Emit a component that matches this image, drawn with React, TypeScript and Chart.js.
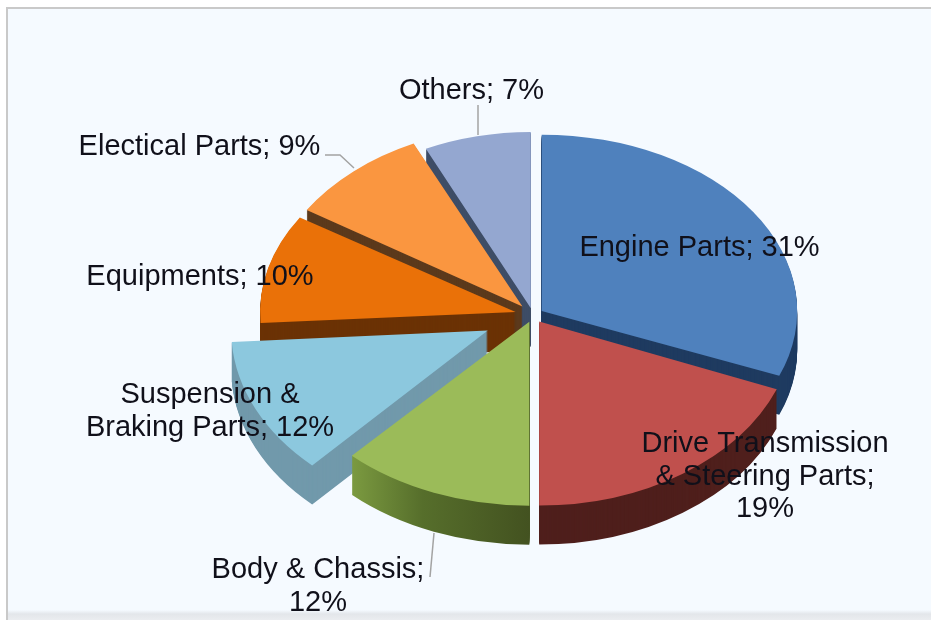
import React, { useEffect, useRef } from "react";
import { Chart, registerables } from "chart.js";

Chart.register(...registerables);

// ---- data ----
const categories = [
  "Engine Parts",
  "Drive Transmission & Steering Parts",
  "Body & Chassis",
  "Suspension & Braking Parts",
  "Equipments",
  "Electical Parts",
  "Others",
];
const shares = [31, 19, 12, 12, 10, 9, 7];

// ---- styles ----
const topColors = ["#4f81bd", "#c0504d", "#9bbb59", "#8cc8de", "#ea7108", "#fa9640", "#94a7d0"];
const sideColors = ["#1f3b60", "#4f1f1c", "#566e2c", "#7199ab", "#6b3205", "#5c3a1c", "#3e4d66"];
const explode = [10.5, 11, 10, 50, 18, 16, 10];
const tilt = [0.69, 0.72, 0.72, 0.725, 0.69, 0.705, 0.69];
const squeeze = [1, 1, 1.015, 1.004, 1, 1, 0.965];
const paintOrder = [6, 5, 4, 0, 3, 2, 1];
const DEPTH = 39;
const RADIUS = 255.5;
const FONT = '29px "Liberation Sans", Arial, sans-serif';

// label text lines with their anchor (centre x, middle y)
const labelBlocks = [
  { lines: ["Engine Parts; 31%"], x: 699.5, y: 248 },
  { lines: ["Drive Transmission", "& Steering Parts;", "19%"], x: 765, y: 444 },
  { lines: ["Body & Chassis;", "12%"], x: 318, y: 570 },
  { lines: ["Suspension &", "Braking Parts; 12%"], x: 210, y: 395 },
  { lines: ["Equipments; 10%"], x: 200, y: 277 },
  { lines: ["Electical Parts; 9%"], x: 199.5, y: 147 },
  { lines: ["Others; 7%"], x: 471.5, y: 91 },
];
const leaders = [
  [[478, 105], [478, 135]],
  [[325, 155], [340, 155], [354, 168]],
  [[434, 533], [430, 577]],
];

const base = {
  borderColor: "transparent",
  borderWidth: 0,
  borderAlign: "center",
  borderJoinStyle: "round",
  borderRadius: 0,
  borderDash: [],
  borderDashOffset: 0,
  circular: true,
  offset: 0,
  spacing: 0,
};

const pie3d = {
  id: "pie3d",
  beforeDraw(chart: any) {
    const ctx = chart.ctx;
    ctx.save();
    ctx.fillStyle = "#ffffff";
    ctx.fillRect(0, 0, 931, 620);
    ctx.fillStyle = "#f5faff";
    ctx.fillRect(7, 8, 924, 612);
    ctx.fillStyle = "#c9c9c9";
    ctx.fillRect(7, 7, 924, 2);
    ctx.fillRect(6, 7, 2, 613);
    const g = ctx.createLinearGradient(0, 610, 0, 620);
    g.addColorStop(0, "rgba(225,228,232,0)");
    g.addColorStop(0.4, "rgba(225,228,232,0.9)");
    g.addColorStop(1, "rgba(235,237,240,1)");
    ctx.fillStyle = g;
    ctx.fillRect(8, 610, 923, 10);
    ctx.restore();
  },
  beforeDatasetsDraw(chart: any) {
    const ctx = chart.ctx;
    const arcs = chart.getDatasetMeta(0).data;
    paintOrder.forEach((i) => {
      const arc = arcs[i];
      const saved = arc.options;
      const mid = (arc.startAngle + arc.endAngle) / 2;
      const k = tilt[i];
      const tipX = arc.x + Math.cos(mid) * explode[i];
      const tipY = arc.y + Math.sin(mid) * explode[i] * k;
      const paint = (shift: number, color: any) => {
        arc.options = { ...base, backgroundColor: color };
        ctx.save();
        ctx.translate(tipX, tipY + shift);
        ctx.scale(squeeze[i], k);
        ctx.translate(-arc.x, -arc.y);
        arc.draw(ctx);
        ctx.restore();
      };
      let side: any = sideColors[i];
      if (i === 2) {
        const g = ctx.createLinearGradient(arc.x - 175, 0, arc.x, 0);
        g.addColorStop(0, "#7b9a40");
        g.addColorStop(0.4, "#566e2b");
        g.addColorStop(1, "#435220");
        side = g;
      }
      for (let d = DEPTH; d >= 1; d--) paint(d, side);
      paint(0, topColors[i]);
      arc.options = saved;
    });
    // text and leader lines sit on top of the pie
    ctx.save();
    ctx.strokeStyle = "#a3a3a3";
    ctx.lineWidth = 1.5;
    leaders.forEach((pts) => {
      ctx.beginPath();
      pts.forEach(([x, y], n) => (n ? ctx.lineTo(x, y) : ctx.moveTo(x, y)));
      ctx.stroke();
    });
    ctx.font = FONT;
    ctx.fillStyle = "#10101a";
    ctx.textAlign = "center";
    ctx.textBaseline = "middle";
    labelBlocks.forEach((b) => {
      b.lines.forEach((t, n) => ctx.fillText(t, b.x, b.y + n * 32.5));
    });
    ctx.restore();
    return false;
  },
};

export default function App() {
  const ref = useRef<HTMLCanvasElement | null>(null);
  useEffect(() => {
    document.body.style.margin = "0";
    const chart = new Chart(ref.current as HTMLCanvasElement, {
      type: "pie",
      data: {
        labels: categories,
        datasets: [
          {
            data: shares,
            backgroundColor: topColors,
            borderWidth: 0,
            clip: false,
          } as any,
        ],
      },
      options: {
        responsive: false,
        animation: false,
        events: [],
        radius: RADIUS,
        layout: { padding: { left: 135, top: 10 } },
        plugins: { legend: { display: false }, tooltip: { enabled: false } },
      } as any,
      plugins: [pie3d as any],
    });
    return () => chart.destroy();
  }, []);
  return (
    <canvas
      ref={ref}
      width={931}
      height={620}
      style={{ display: "block", width: 931, height: 620, filter: "blur(0.7px)" }}
    />
  );
}
